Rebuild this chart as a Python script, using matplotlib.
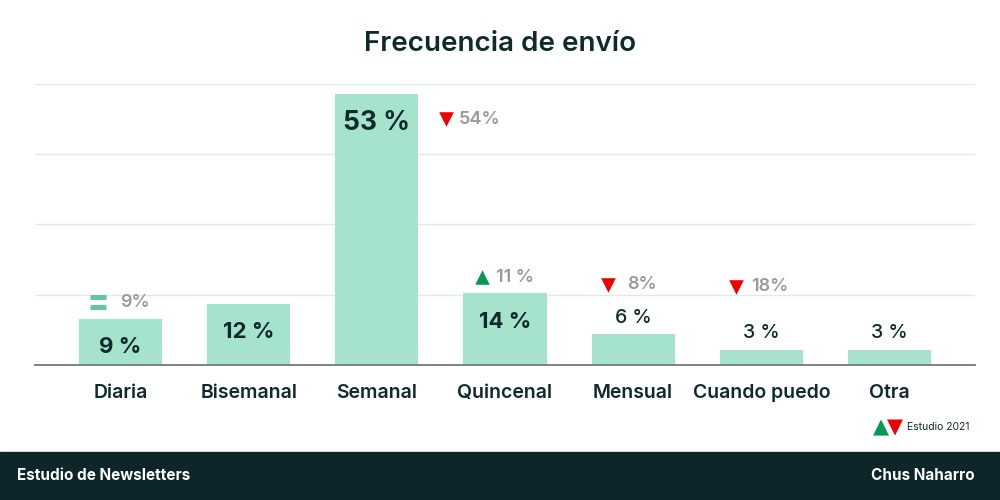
import matplotlib.pyplot as plt
import matplotlib.patches as patches

plt.rcParams['font.family'] = ['Inter', 'DejaVu Sans']

categories = ['Diaria', 'Bisemanal', 'Semanal', 'Quincenal', 'Mensual', 'Cuando puedo', 'Otra']
values = [9, 12, 53, 14, 6, 3, 3]
value_labels = ['9 %', '12 %', '53 %', '14 %', '6 %', '3 %', '3 %']

# estudio 2021: valor previo y tendencia
prev_labels = ['9%', None, '54%', '11 %', '8%', '18%', None]
trend = ['eq', None, 'down', 'up', 'down', 'down', None]
# posicion de las marcas de comparacion (desplazamiento x, y en datos)
cmp_dx = [-0.175, 0, 0.54, -0.18, -0.2, -0.2, 0]
cmp_tx = [-0.005, 0, 0.64, -0.07, -0.05, -0.08, 0]
cmp_y = [12.3, 0, 48.1, 17.2, 15.7, 15.3, 0]

bar_color = '#a6e3cc'
dark = '#0f2a2d'
grey = '#9a9a9a'
green = '#07994f'
red = '#ee0000'

fig = plt.figure(figsize=(10, 5), dpi=100)
ax = fig.add_axes([0.035, 0.27, 0.94, 0.562])

x = list(range(len(categories)))
ax.bar(x, values, width=0.65, color=bar_color, zorder=2)
ax.set_xlim(-0.667, len(categories) - 1 + 0.667)
ax.set_ylim(0, 55)
ax.set_yticks([0, 13.75, 27.5, 41.25, 55])
ax.grid(axis='y', color='#e6e6e6', lw=1, zorder=0)
ax.set_axisbelow(True)
for s in ['top', 'right', 'left']:
    ax.spines[s].set_visible(False)
ax.spines['bottom'].set_color('#777777')
ax.spines['bottom'].set_linewidth(1.3)
ax.tick_params(axis='y', left=False, labelleft=False)
ax.tick_params(axis='x', bottom=False, pad=10)
ax.set_xticks(x)
ax.set_xticklabels(categories, fontsize=14, fontweight='semibold', color=dark)

for i, v in enumerate(values):
    if v >= 9:
        size = 19 if v > 40 else 16
        ax.annotate(value_labels[i], (i, v), xytext=(0, -20.5), textcoords='offset points',
                    ha='center', va='center', fontsize=size, fontweight='bold', color=dark)
    else:
        ax.annotate(value_labels[i], (i, v), xytext=(0, 12), textcoords='offset points',
                    ha='center', va='center', fontsize=14, fontweight='medium', color=dark)

for i, t in enumerate(trend):
    if t is None:
        continue
    mx = i + cmp_dx[i]
    my = cmp_y[i]
    if t == 'eq':
        ax.plot([mx - 0.065, mx + 0.065], [my + 0.95] * 2, color='#5fc8a0', lw=3.6,
                solid_capstyle='butt', zorder=3)
        ax.plot([mx - 0.065, mx + 0.065], [my - 0.95] * 2, color='#5fc8a0', lw=3.6,
                solid_capstyle='butt', zorder=3)
    elif t == 'up':
        ax.scatter([mx], [my], marker='^', s=110, color=green, zorder=3, linewidths=0)
    else:
        ax.scatter([mx], [my], marker='v', s=110, color=red, zorder=3, linewidths=0)
    ax.text(i + cmp_tx[i], my, prev_labels[i], ha='left', va='center', fontsize=13,
            fontweight='semibold', color=grey)

fig.text(0.5, 0.912, 'Frecuencia de envío', ha='center', va='center', fontsize=20,
         fontweight='semibold', color=dark)

# leyenda
fig.text(0.8805, 0.146, '▲', ha='center', va='center', fontsize=15, color=green,
         family=['DejaVu Sans'])
fig.text(0.8945, 0.146, '▼', ha='center', va='center', fontsize=15, color=red,
         family=['DejaVu Sans'])
fig.text(0.907, 0.146, 'Estudio 2021', ha='left', va='center', fontsize=7.5, color=dark)

# pie
fig.patches.append(patches.Rectangle((0, 0), 1, 0.096, transform=fig.transFigure,
                                     color='#0e2529', zorder=0))
fig.text(0.017, 0.048, 'Estudio de Newsletters', ha='left', va='center', fontsize=11,
         fontweight='bold', color='white')
fig.text(0.975, 0.048, 'Chus Naharro', ha='right', va='center', fontsize=11,
         fontweight='bold', color='white')

fig.savefig('out.png', dpi=100, facecolor='white')
